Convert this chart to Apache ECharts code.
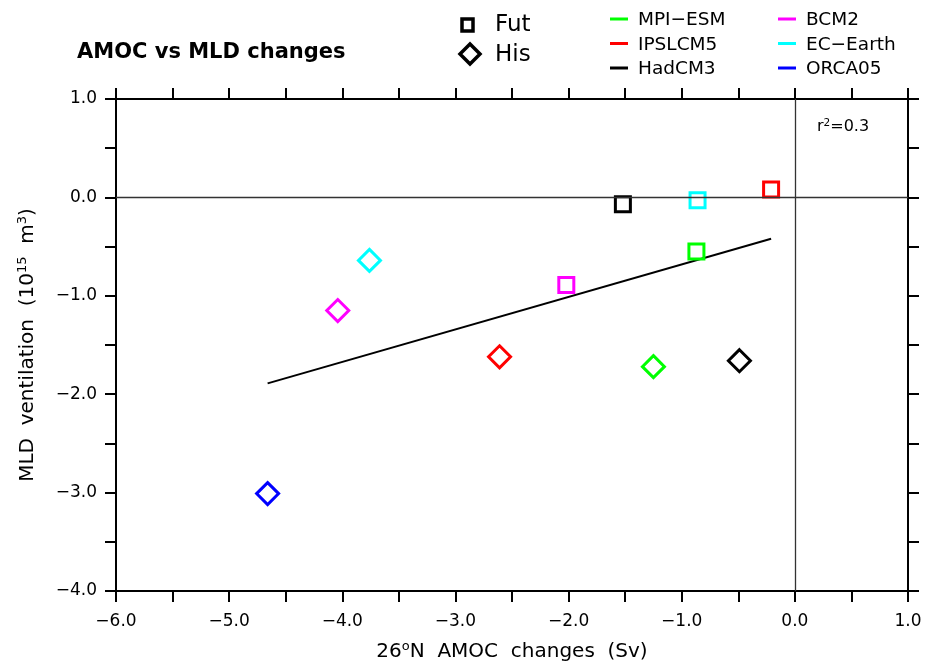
<!DOCTYPE html>
<html>
<head>
<meta charset="utf-8">
<script src="https://cdn.jsdelivr.net/npm/echarts@6/dist/echarts.min.js"></script>
<style>
  html, body { margin: 0; padding: 0; background: #fff; }
  #chart { width: 936px; height: 668px; }
</style>
</head>
<body>
<div id="chart"></div>
<script>
// models and their colours
const models = ['MPI\u2212ESM', 'IPSLCM5', 'HadCM3', 'BCM2', 'EC\u2212Earth', 'ORCA05'];
const colors = ['#00ff00', '#ff0000', '#000000', '#ff00ff', '#00ffff', '#0000ff'];

// future (squares) - ORCA05 has no future run
const futX = [-0.87, -0.21, -1.52, -2.02, -0.86, null];
const futY = [-0.55, 0.08, -0.07, -0.89, -0.03, null];

// historical (diamonds)
const hisX = [-1.25, -2.61, -0.49, -4.04, -3.76, -4.66];
const hisY = [-1.72, -1.62, -1.66, -1.15, -0.64, -3.01];

// regression line end points
const fitX = [-4.66, -0.21];
const fitY = [-1.89, -0.42];

const xRange = [-6, 1];
const yRange = [-4, 1];

const FONT = '"DejaVu Sans", "Liberation Sans", sans-serif';
const lbl = v => (v % 1 === 0 ? v.toFixed(1).replace('-', '\u2212') : '');

function pts(xs, ys) {
    const out = [];
    xs.forEach((x, i) => {
        if (x === null) return;
        out.push({
            value: [x, ys[i]],
            itemStyle: { color: 'rgba(0,0,0,0)', borderColor: colors[i], borderWidth: 3, opacity: 1 }
        });
    });
    return out;
}

const axisCommon = {
    type: 'value',
    interval: 0.5,
    axisLine: { show: true, onZero: false, lineStyle: { color: '#000', width: 2 } },
    axisTick: { show: true, inside: false, length: 11, lineStyle: { color: '#000', width: 2 } },
    splitLine: { show: false }
};

const nameRich = {
    n: { fontFamily: FONT, fontSize: 20, color: '#000' },
    s: { fontFamily: FONT, fontSize: 13, color: '#000', verticalAlign: 'top', padding: [0, 0, 10, 0] }
};

const chart = echarts.init(document.getElementById('chart'));

// legend drawn with graphic elements
const legend = [];
legend.push({ type: 'rect', shape: { x: 462, y: 19, width: 11, height: 12 },
    style: { fill: 'none', stroke: '#000', lineWidth: 3.5 } });
legend.push({ type: 'polygon', shape: { points: [[470, 44], [480, 54], [470, 64], [460, 54]] },
    style: { fill: 'none', stroke: '#000', lineWidth: 3.5 } });
legend.push({ type: 'text', x: 495, y: 25, style: { text: 'Fut', font: '23px ' + FONT, fill: '#000', verticalAlign: 'middle' } });
legend.push({ type: 'text', x: 495, y: 55, style: { text: 'His', font: '23px ' + FONT, fill: '#000', verticalAlign: 'middle' } });
models.forEach((m, i) => {
    const col = Math.floor(i / 3), row = i % 3;
    const x0 = 610 + col * 168, y0 = 19 + row * 24.5;
    legend.push({ type: 'line', shape: { x1: x0, y1: y0, x2: x0 + 18, y2: y0 },
        style: { stroke: colors[i], lineWidth: 3 } });
    legend.push({ type: 'text', x: x0 + 28, y: y0 + 1.5, style: { text: m, font: '18.5px ' + FONT, fill: '#000', verticalAlign: 'middle' } });
});

const option = {
    animation: false,
    backgroundColor: '#fff',
    grid: { left: 116, right: 28, top: 99, bottom: 77, outerBoundsMode: 'none', containLabel: false },
    title: {
        text: 'AMOC vs MLD changes',
        left: 72, top: 37,
        textStyle: { fontFamily: FONT, fontSize: 21, fontWeight: 'bold', color: '#000' }
    },
    xAxis: [
        Object.assign({}, axisCommon, {
            min: xRange[0], max: xRange[1], position: 'bottom',
            name: '{n|26}{s|o}{n|N  AMOC  changes  (Sv)}',
            nameLocation: 'middle', nameGap: 49,
            nameTextStyle: { rich: nameRich },
            axisLabel: { formatter: lbl, margin: 22, fontFamily: FONT, fontSize: 17, color: '#000' }
        }),
        Object.assign({}, axisCommon, {
            min: xRange[0], max: xRange[1], position: 'top',
            axisLabel: { show: false }
        })
    ],
    yAxis: [
        Object.assign({}, axisCommon, {
            min: yRange[0], max: yRange[1], position: 'left',
            name: '{n|MLD  ventilation  (10}{s|15}{n|  m}{s|3}{n|)}',
            nameLocation: 'middle', nameGap: 77, nameRotate: 90,
            nameTextStyle: { rich: nameRich },
            axisLabel: { formatter: lbl, margin: 19, fontFamily: FONT, fontSize: 17, color: '#000' }
        }),
        Object.assign({}, axisCommon, {
            min: yRange[0], max: yRange[1], position: 'right',
            axisLabel: { show: false }
        })
    ],
    graphic: legend.concat([{
        type: 'text', x: 817, y: 127,
        style: {
            text: '{n|r}{s|2}{n|=0.3}',
            verticalAlign: 'middle',
            rich: {
                n: { fontFamily: FONT, fontSize: 16, fill: '#000' },
                s: { fontFamily: FONT, fontSize: 10.5, fill: '#000', verticalAlign: 'top', padding: [0, 0, 7, 0] }
            }
        }
    }]),
    series: [
        {
            type: 'line',
            data: fitX.map((x, i) => [x, fitY[i]]),
            symbol: 'none',
            lineStyle: { color: '#000', width: 2 },
            silent: true,
            z: 2,
            markLine: {
                silent: true,
                symbol: 'none',
                label: { show: false },
                lineStyle: { color: '#333', width: 1.3, type: 'solid' },
                data: [{ xAxis: 0 }, { yAxis: 0 }]
            }
        },
        {
            name: 'Fut',
            type: 'scatter',
            symbol: 'rect',
            symbolSize: 15,
            data: pts(futX, futY),
            z: 3
        },
        {
            name: 'His',
            type: 'scatter',
            symbol: 'diamond',
            symbolSize: 22,
            data: pts(hisX, hisY),
            z: 3
        }
    ]
};

chart.setOption(option);
</script>
</body>
</html>
